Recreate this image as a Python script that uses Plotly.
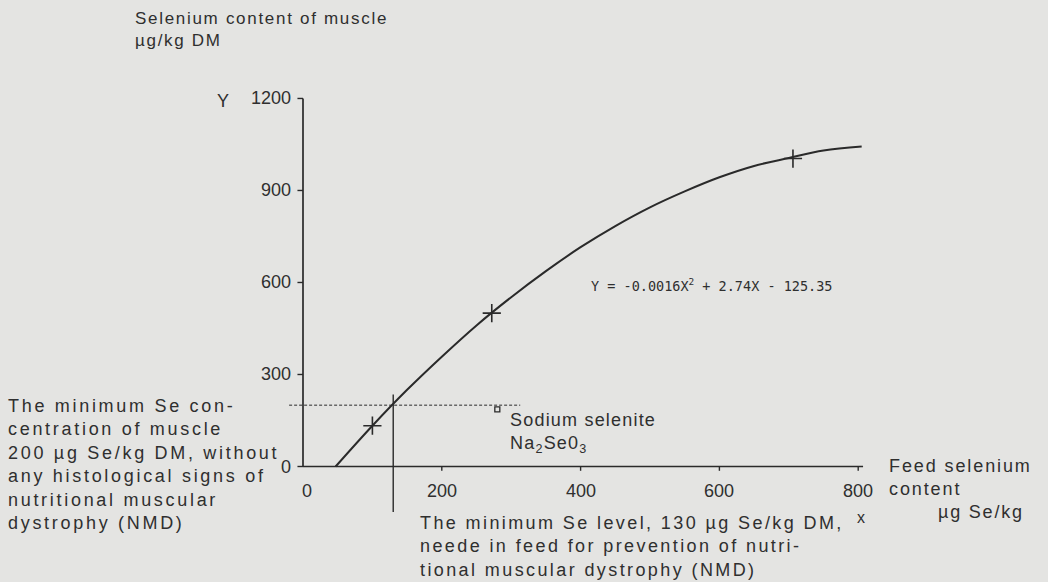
import plotly.graph_objects as go

# ---------------- data ----------------
curve_x = [47, 100, 150, 200, 250, 300, 350, 400, 450, 500, 550, 600, 650, 700, 750, 805]
curve_y = [0, 133, 250, 358, 460, 552, 637, 715, 784, 845, 897, 943, 980, 1006, 1030, 1043]
obs_x = [100, 272, 706]
obs_y = [133, 500, 1004]
min_feed_se = 130          # vertical reference line (x)
min_muscle_se = 200        # horizontal reference line (y)
selenite_x = [280]
selenite_y = [186]
x_ticks = [0, 200, 400, 600, 800]
y_ticks = [0, 300, 600, 900, 1200]

# ---------------- pixel <-> data mapping (layout) ----------------
W, H = 1048, 582
X0PX, XS = 303.0, 0.694     # px of x=0, px per unit
Y0PX, YS = 466.5, 0.3067    # px of y=0, px per unit
xmin = -X0PX / XS
xmax = xmin + W / XS
ymax = Y0PX / YS
ymin = ymax - H / YS

def dx(px):
    return xmin + px / XS

def dy(py):
    return ymax - py / YS

INK = "#2a2a2a"
TXT = "#2f2f2f"
BG = "#e4e4e2"
SANS = "Liberation Sans, Arial, Helvetica, sans-serif"

fig = go.Figure()

# fitted curve
fig.add_trace(go.Scatter(x=curve_x, y=curve_y, mode="lines",
                         line=dict(color=INK, width=2, shape="spline"),
                         hoverinfo="skip", showlegend=False))
# observed points
fig.add_trace(go.Scatter(x=obs_x, y=obs_y, mode="markers",
                         marker=dict(symbol="cross-thin", size=13,
                                     line=dict(color=INK, width=1.6)),
                         showlegend=False, cliponaxis=False))
# sodium selenite legend mark
fig.add_trace(go.Scatter(x=selenite_x, y=selenite_y, mode="markers",
                         marker=dict(symbol="square-open", size=5,
                                     line=dict(color=INK, width=1.3), color=INK),
                         showlegend=False))

shapes = []
# axes lines
shapes.append(dict(type="line", x0=0, x1=807, y0=0, y1=0, line=dict(color=INK, width=1.7)))
shapes.append(dict(type="line", x0=0, x1=0, y0=0, y1=1200, line=dict(color=INK, width=1.7)))
# ticks
for v in y_ticks:
    shapes.append(dict(type="line", x0=0, x1=-8, y0=v, y1=v, line=dict(color=INK, width=1.4)))
for v in x_ticks[1:]:
    shapes.append(dict(type="line", x0=v, x1=v, y0=0, y1=-14, line=dict(color=INK, width=1.4)))
# reference lines
shapes.append(dict(type="line", x0=min_feed_se, x1=min_feed_se, y0=-148, y1=235,
                   line=dict(color=INK, width=1.4)))
shapes.append(dict(type="line", x0=-20, x1=313, y0=min_muscle_se, y1=min_muscle_se,
                   line=dict(color=INK, width=1, dash="3px,2px")))

annotations = []
letter_spacing = []

def ann(text, px, py, size=18, xanchor="left", yanchor="middle", align="left",
        family=SANS, ls=0.0):
    annotations.append(dict(text=text, x=dx(px), y=dy(py), xref="x", yref="y",
                            xanchor=xanchor, yanchor=yanchor, align=align,
                            showarrow=False, font=dict(family=family, size=size, color=TXT)))
    letter_spacing.append(ls)

# tick labels
for v in y_ticks:
    ann(str(v), 293, Y0PX - v * YS, size=18, xanchor="right", align="right")
for v in x_ticks:
    ann(str(v), X0PX + v * XS + (4 if v == 0 else 0), 491, size=18, xanchor="center", align="center")

ann("Y", 215, 101, size=18)
ann("x", 861, 517, size=16, xanchor="center", align="center")

ann("Selenium content of muscle<br>µg/kg DM", 133, 29, size=17, ls=1.7)
ann("Feed selenium<br>content", 887, 477, size=18, ls=1.9)
ann("µg Se/kg", 936, 512, size=18, ls=1.8)
ann("The minimum Se con-<br>centration of muscle<br>200 µg Se/kg DM, without<br>"
    "any histological signs of<br>nutritional muscular<br>dystrophy (NMD)",
    6, 464, size=18, ls=2.7)
ann("Sodium selenite<br>Na<sub>2</sub>Se0<sub>3</sub>", 508, 433, size=18, ls=1.2)
ann("The minimum Se level, 130 µg Se/kg DM,<br>neede in feed for prevention of nutri-<br>"
    "tional muscular dystrophy (NMD)", 418, 546, size=18, ls=2.4)
ann("Y = -0.0016X<sup>2</sup> + 2.74X - 125.35", 589, 285, size=13.5,
    family="DejaVu Sans Mono, monospace", ls=0.0)

fig.update_layout(
    width=W, height=H,
    margin=dict(l=0, r=0, t=0, b=0),
    paper_bgcolor=BG, plot_bgcolor=BG,
    xaxis=dict(range=[xmin, xmax], visible=False, fixedrange=True),
    yaxis=dict(range=[ymin, ymax], visible=False, fixedrange=True),
    shapes=shapes, annotations=annotations, showlegend=False,
)

ls_js = "[" + ",".join(str(v) for v in letter_spacing) + "]"
post = (
    "document.body.style.margin='0';"
    "var gd=document.getElementById('{plot_id}');"
    "var ls=" + ls_js + ";"
    "gd.querySelectorAll('.annotation').forEach(function(a){"
    "var i=+a.getAttribute('data-index');"
    "if(ls[i]){a.querySelectorAll('text').forEach(function(t){t.style.letterSpacing=ls[i]+'px';});}"
    "});"
)

fig.write_html("out.html", config={"displayModeBar": False, "staticPlot": True}, post_script=post)
